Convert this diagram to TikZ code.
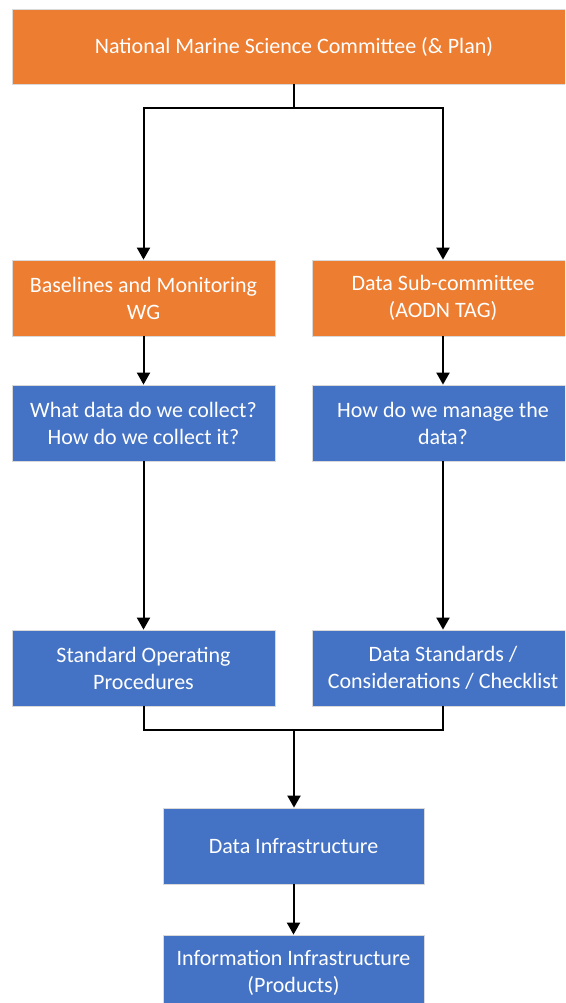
\documentclass[tikz,border=0pt]{standalone}
\usepackage{fontspec}
\setmainfont{Carlito}
\usetikzlibrary{arrows.meta}
\definecolor{boxorange}{HTML}{ED7D31}
\definecolor{boxblue}{HTML}{4472C4}
\begin{document}
\begin{tikzpicture}[x=1pt,y=-1pt,
  box/.style={rectangle, draw=black!15, line width=0.8pt, text=white,
    align=center, inner sep=0pt, minimum height=76pt,
    font=\fontsize{22}{27}\selectfont},
  orangebox/.style={box, fill=boxorange},
  bluebox/.style={box, fill=boxblue},
  link/.style={line width=2pt, draw=black},
  arrow/.style={link, -{Triangle[width=13pt,length=12pt]}}]
\useasboundingbox (0,0) rectangle (565,1003);
\clip (0,0) rectangle (565,1003);

% governance level
\node[orangebox, minimum width=564pt, minimum height=75pt] (nmsc) at (294,46.5)
  {National Marine Science Committee (\& Plan)};
\node[orangebox, minimum width=263pt] (bmwg) at (143.5,298)
  {Baselines and Monitoring\\WG};
\node[orangebox, minimum width=262pt] (dsc) at (443,298)
  {Data Sub-committee\\(AODN TAG)};

% guiding questions
\node[bluebox, minimum width=263pt] (collect) at (143.5,423)
  {What data do we collect?\\How do we collect it?};
\node[bluebox, minimum width=262pt] (manage) at (443,423)
  {How do we manage the\\data?};

% outputs
\node[bluebox, minimum width=263pt] (sop) at (143.5,668)
  {Standard Operating\\Procedures};
\node[bluebox, minimum width=262pt] (dstd) at (443,668)
  {Data Standards /\\Considerations / Checklist};

% infrastructure
\node[bluebox, minimum width=261pt] (dinfra) at (293.5,846)
  {Data Infrastructure};
\node[bluebox, minimum width=261pt] (iinfra) at (293.5,973)
  {Information Infrastructure\\(Products)};

% connectors
\coordinate (split) at (294,108);
\coordinate (merge) at (294,730);
\draw[link] (nmsc.south -| split) -- (split);
\draw[arrow] (split) -| (bmwg.north);
\draw[arrow] (split) -| (dsc.north);
\draw[arrow] (bmwg) -- (collect);
\draw[arrow] (dsc) -- (manage);
\draw[arrow] (collect) -- (sop);
\draw[arrow] (manage) -- (dstd);
\draw[link] (sop.south) |- (merge);
\draw[link] (dstd.south) |- (merge);
\draw[arrow] (merge) -- (dinfra.north -| merge);
\draw[arrow] (dinfra) -- (iinfra);
\end{tikzpicture}
\end{document}
